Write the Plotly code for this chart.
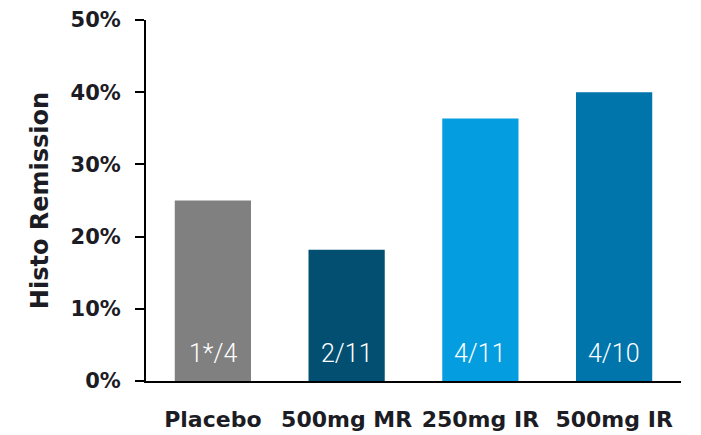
import plotly.graph_objects as go

categories = ["Placebo", "500mg MR", "250mg IR", "500mg IR"]
responders = [1, 2, 4, 4]
totals = [4, 11, 11, 10]
count_labels = ["1*/4", "2/11", "4/11", "4/10"]
remission = [r / t for r, t in zip(responders, totals)]
bar_colors = ["#808080", "#024f72", "#049de0", "#0075ab"]

BOLD = "DejaVu Sans"
LIGHT = "Roboto"
INK = "#1c1c24"

fig = go.Figure(
    go.Bar(
        x=categories,
        y=remission,
        marker=dict(color=bar_colors, line=dict(width=0)),
        width=0.57,
        hoverinfo="skip",
    )
)

# count labels near the base of each bar
for cat, lab in zip(categories, count_labels):
    fig.add_annotation(
        x=cat, y=0, text=lab, showarrow=False,
        yanchor="bottom", yshift=11,
        font=dict(family=LIGHT, size=25, color="white", weight=300),
    )

fig.update_layout(
    width=701, height=435,
    margin=dict(l=146, r=20, t=20, b=54),
    plot_bgcolor="white", paper_bgcolor="white",
    showlegend=False,
    bargap=0.43,
)
fig.update_xaxes(
    automargin=False,
    showline=True, linecolor="black", linewidth=2,
    ticks="", showgrid=False,
    tickfont=dict(family=BOLD, size=22, color=INK, weight=700),
    ticklabelstandoff=18,
)
fig.update_yaxes(
    automargin=False,
    range=[0, 0.5], dtick=0.1, tickformat=".0%",
    showline=True, linecolor="black", linewidth=2,
    ticks="outside", ticklen=9, tickwidth=2, tickcolor="black",
    showgrid=False, zeroline=False,
    tickfont=dict(family=BOLD, size=21, color=INK, weight=700),
    ticklabelstandoff=10,
    title=dict(text="Histo Remission", standoff=15,
               font=dict(family=BOLD, size=24, color=INK, weight=700)),
)

fig.write_html("out.html")
